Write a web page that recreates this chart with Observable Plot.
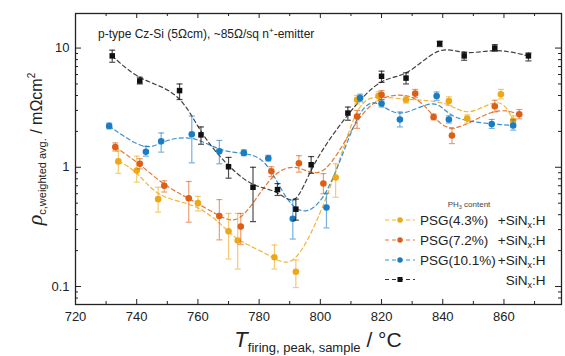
<!DOCTYPE html>
<html><head><meta charset="utf-8">
<script src="https://cdn.jsdelivr.net/npm/d3@7"></script>
<script src="https://cdn.jsdelivr.net/npm/@observablehq/plot@0.6"></script>
<style>
body{margin:0;background:#fff;}
svg{font-family:"Liberation Sans",Arial,sans-serif;}
</style>
</head><body><div id="chart"></div>
<script>
// ---- data ----
const seriesNames = ["PSG(4.3%)", "PSG(7.2%)", "PSG(10.1%)", "SiNx:H"];
const seriesColors = ["#EDA818", "#DC5F17", "#1A7DC4", "#111111"];

const tYellow  = [734,740,747,760,770,773,785,792,805,812,819,828,842,848,859,863];
const vYellow  = [1.12,0.94,0.54,0.50,0.29,0.243,0.176,0.133,0.82,3.69,3.96,3.69,3.60,2.56,4.10,2.45];
const loYellow = [0.89,0.75,0.42,0.43,0.17,0.14,0.14,0.098,0.56,3.40,3.60,3.45,3.30,2.35,3.75,2.20];
const hiYellow = [1.37,1.24,0.68,0.57,0.41,0.41,0.223,0.167,1.07,4.00,4.30,3.95,3.90,2.75,4.50,2.70];

const tOrange  = [733,741,749,757,767,774,784,793,801,812,820,831,837,843,857,865];
const vOrange  = [1.48,1.07,0.70,0.55,0.39,0.318,0.925,1.08,0.73,2.67,4.05,4.15,2.64,1.85,3.25,2.78];
const loOrange = [1.37,0.97,0.62,0.346,0.246,0.225,0.835,0.91,0.60,2.12,3.70,3.85,2.50,1.58,2.91,2.55];
const hiOrange = [1.60,1.18,0.77,0.76,0.536,0.41,1.01,1.25,0.885,3.00,4.40,4.50,2.80,2.11,3.65,3.05];

const tBlue  = [731,743,748,758,767,775,783,791,802,813,820,826,838,842,856,863];
const vBlue  = [2.22,1.35,1.65,1.89,1.36,1.32,1.19,0.37,0.46,3.81,3.42,2.52,3.96,2.52,2.31,2.24];
const loBlue = [2.10,1.24,1.34,1.09,1.07,1.25,1.13,0.25,0.31,3.55,3.20,2.18,3.65,2.35,2.12,2.05];
const hiBlue = [2.35,1.50,1.94,2.69,1.68,1.40,1.26,0.53,0.605,4.10,3.70,2.91,4.28,2.70,2.52,2.50];

const tBlack  = [732,741,754,761,770,778,786,792,797,809,820,828,839,847,857,868];
const vBlack  = [8.6,5.3,4.4,1.87,1.01,0.68,0.65,0.445,1.05,2.85,5.8,5.6,10.9,8.6,10.0,8.6];
const loBlack = [7.6,5.0,3.7,1.56,0.81,0.35,0.58,0.36,0.89,2.48,5.15,5.0,10.3,7.9,9.4,7.8];
const hiBlack = [9.6,5.7,5.0,2.18,1.21,1.00,0.73,0.54,1.23,3.2,6.4,6.2,11.4,9.25,10.7,9.1];

const xMajor = [720,740,760,780,800,820,840,860];
const xMinor = [730,750,770,790,810,830,850,870];
const yMajor = [0.1,1,10];
const yMinor = [0.08,0.09,0.2,0.3,0.4,0.5,0.6,0.7,0.8,0.9,2,3,4,5,6,7,8,9];

// ---- build rows ----
function rows(name, t, v, lo, hi) {
  return t.map((d, i) => ({series: name, T: d, v: v[i], lo: lo[i], hi: hi[i]}));
}
const sets = [
  rows(seriesNames[0], tYellow, vYellow, loYellow, hiYellow),
  rows(seriesNames[1], tOrange, vOrange, loOrange, hiOrange),
  rows(seriesNames[2], tBlue, vBlue, loBlue, hiBlue),
  rows(seriesNames[3], tBlack, vBlack, loBlack, hiBlack)
];

const W = 565, H = 356, mL = 75, mR = 4, mT = 13, mB = 52;
const iw = W - mL - mR, ih = H - mT - mB;
const ink = "#222";

const capSymbol = {draw(ctx, size) { const r = Math.sqrt(size / Math.PI); ctx.moveTo(-r, 0); ctx.lineTo(r, 0); }};

const marks = [];
// curves
sets.forEach((s, i) => {
  marks.push(Plot.line(s, {x: "T", y: "v", stroke: seriesColors[i], curve: "basis",
    strokeDasharray: "4,3", strokeWidth: 1.2, strokeOpacity: i === 3 ? 0.8 : 0.85}));
});
// error bars + points
sets.forEach((s, i) => {
  const c = seriesColors[i];
  const op = i === 3 ? 0.75 : 0.6;
  marks.push(Plot.ruleX(s, {x: "T", y1: "lo", y2: "hi", stroke: c, strokeOpacity: op, strokeWidth: 1.2}));
  marks.push(Plot.dot(s, {x: "T", y: "lo", symbol: capSymbol, r: 3, fill: "none", stroke: c, strokeOpacity: op, strokeWidth: 1.2}));
  marks.push(Plot.dot(s, {x: "T", y: "hi", symbol: capSymbol, r: 3, fill: "none", stroke: c, strokeOpacity: op, strokeWidth: 1.2}));
  marks.push(Plot.dot(s, {x: "T", y: "v", fill: c, stroke: "none", r: i === 3 ? 3.1 : 3.3, symbol: i === 3 ? "square" : "circle"}));
});
// inward ticks
marks.push(
  Plot.ruleX(xMajor, {x: d => d, insetTop: ih - 5, stroke: ink}),
  Plot.ruleX(xMajor, {x: d => d, insetBottom: ih - 5, stroke: ink}),
  Plot.ruleX(xMinor, {x: d => d, insetTop: ih - 3, stroke: ink}),
  Plot.ruleX(xMinor, {x: d => d, insetBottom: ih - 3, stroke: ink}),
  Plot.ruleY(yMajor, {y: d => d, insetRight: iw - 6, stroke: ink}),
  Plot.ruleY(yMajor, {y: d => d, insetLeft: iw - 6, stroke: ink}),
  Plot.ruleY(yMinor, {y: d => d, insetRight: iw - 3, stroke: ink}),
  Plot.ruleY(yMinor, {y: d => d, insetLeft: iw - 3, stroke: ink}),
  Plot.frame({stroke: ink, strokeWidth: 1.3}),
  Plot.axisX(xMajor, {tickSize: 0, tickPadding: 7, fontSize: 13, label: null, fill: ink}),
  Plot.axisY(yMajor, {tickSize: 0, tickPadding: 6, fontSize: 13, label: null, fill: ink,
    tickFormat: d => d < 1 ? "0.1" : String(d)})
);

const chart = Plot.plot({
  width: W, height: H,
  marginLeft: mL, marginRight: mR, marginTop: mT, marginBottom: mB,
  style: {fontFamily: '"Liberation Sans", Arial, sans-serif', background: "white", color: ink},
  x: {domain: [720, 878.8]},
  y: {type: "log", domain: [0.0706, 19.5]},
  marks
});
document.getElementById("chart").appendChild(chart);

// ---- texts: axis titles, annotation, legend ----
const svg = d3.select(chart);
const font = '"Liberation Sans", Arial, sans-serif';

// annotation
const ann = svg.append("text").attr("x", 98).attr("y", 37.5).attr("font-size", 12)
  .attr("text-anchor", "start").attr("fill", ink).attr("font-family", font);
ann.append("tspan").text("p-type Cz-Si (5Ωcm), ~85Ω/sq n");
ann.append("tspan").attr("font-size", 8).attr("dy", -5).text("+");
ann.append("tspan").attr("dy", 5).text("-emitter");

// x title
const xt = svg.append("text").attr("x", 318).attr("y", 347).attr("text-anchor", "middle")
  .attr("fill", ink).attr("font-family", font);
xt.append("tspan").attr("font-size", 22).attr("font-style", "italic").text("T");
xt.append("tspan").attr("font-size", 13).attr("dy", 5).text("firing, peak, sample");
xt.append("tspan").attr("font-size", 21).attr("dy", -5).text(" / °C");

// y title
const yt = svg.append("text").attr("transform", "translate(42,149) rotate(-90)")
  .attr("text-anchor", "middle").attr("fill", ink).attr("font-family", font);
yt.append("tspan").attr("font-size", 22).attr("font-style", "italic")
  .attr("font-family", '"Liberation Serif", serif').text("ρ");
yt.append("tspan").attr("font-size", 11).attr("dy", 4).text("c,weighted avg.");
yt.append("tspan").attr("font-size", 16).attr("dy", -4).text(" / mΩcm");
yt.append("tspan").attr("font-size", 10).attr("dy", -7).text("2");

// legend
const lg = svg.append("g").attr("font-family", font).attr("fill", ink);
const ph = lg.append("text").attr("x", 469).attr("y", 207).attr("text-anchor", "middle")
  .attr("font-size", 8).attr("fill", "#444");
ph.append("tspan").text("PH");
ph.append("tspan").attr("font-size", 5.5).attr("dy", 2).text("3");
ph.append("tspan").attr("dy", -2).text(" content");

const rowY = [220, 240, 260, 279.5];
seriesNames.forEach((name, i) => {
  const y = rowY[i], c = seriesColors[i];
  lg.append("line").attr("x1", 385).attr("x2", 415).attr("y1", y).attr("y2", y)
    .attr("stroke", c).attr("stroke-width", 1.2).attr("stroke-dasharray", "4,3").attr("stroke-opacity", 0.85);
  if (i === 3) {
    lg.append("rect").attr("x", 397.5).attr("y", y - 2.5).attr("width", 5).attr("height", 5).attr("fill", c);
  } else {
    lg.append("circle").attr("cx", 400).attr("cy", y).attr("r", 2.7).attr("fill", c);
  }
  if (i < 3) {
    lg.append("text").attr("x", 420).attr("y", y + 5).attr("font-size", 13.5)
      .attr("text-anchor", "start").text(name);
  }
  const r = lg.append("text").attr("x", 545.5).attr("y", y + 5).attr("font-size", 13.5).attr("text-anchor", "end");
  r.append("tspan").text(i < 3 ? "+SiN" : "SiN");
  r.append("tspan").attr("font-size", 9).attr("dy", 3).text("x");
  r.append("tspan").attr("dy", -3).text(":H");
});
</script>
</body></html>
